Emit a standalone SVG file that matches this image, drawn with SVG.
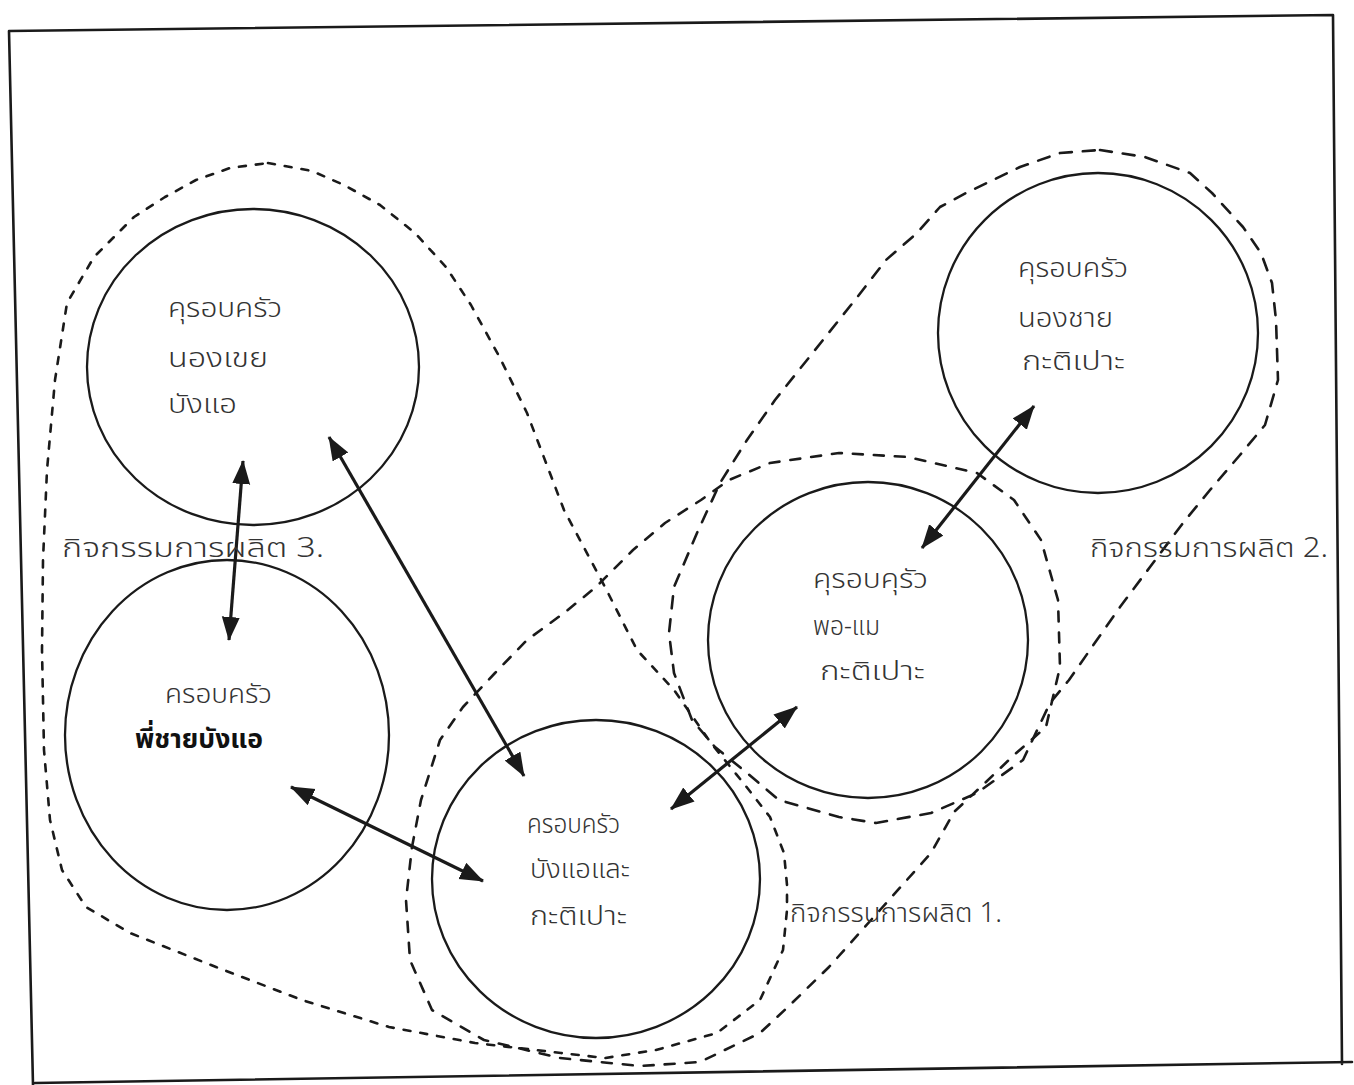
<svg xmlns="http://www.w3.org/2000/svg" width="1354" height="1085" viewBox="0 0 1354 1085">
<style>
.frame{fill:none;stroke:#1a1a1a;stroke-width:2.6;stroke-linecap:round}
.node{fill:none;stroke:#1a1a1a;stroke-width:2.3}
.arrow{fill:none;stroke:#1a1a1a;stroke-width:3.2;marker-start:url(#head);marker-end:url(#head)}
.dash{fill:none;stroke:#1a1a1a;stroke-width:2.6;stroke-linejoin:round;stroke-linecap:round}
.d3{stroke-dasharray:7 10}
.d1{stroke-dasharray:10 11}
.d2{stroke-dasharray:12 11}
text{font-family:"Noto Sans Thai","Noto Sans","DejaVu Sans",sans-serif;font-size:27px;font-weight:300;fill:#333333}
.b{font-weight:bold;fill:#111111}
</style>
<defs>
<marker id="head" markerUnits="userSpaceOnUse" markerWidth="26" markerHeight="20" refX="23" refY="9" orient="auto-start-reverse">
<path d="M0,0 L24,9 L0,18 Z" fill="#1a1a1a"/>
</marker>
</defs>
<rect width="1354" height="1085" fill="#ffffff"/>
<g id="frame">
<path class="frame" d="M9,31 L1333,15 M1333,15 L1342,1064 M9,31 L33,1085 M35,1083 L1352,1062"/>
</g>
<g id="activity-areas">
<path id="area3" class="dash d3" d="M268,163 L312,171 L344,185 L380,205 L415,233 L446,267 L471,305 L500,358 L527,413 L564,510 L605,587 L637,650 L674,690 L711,743 L745,785 L770,817 L784,853 L787,885 L787,910 L783,950 L760,1000 L717,1033 L656,1050 L605,1058 L561,1053 L475,1043 L389,1027 L302,1000 L216,967 L130,933 L86,907 L62,870 L50,820 L44,750 L42,650 L43,560 L47,470 L55,380 L67,303 L94,257 L134,217 L165,197 L196,180 L230,168 Z"/>
<path id="area1" class="dash d1" d="M412,847 L421,800 L440,740 L463,707 L495,673 L527,640 L564,613 L596,587 L633,550 L665,523 L701,500 L729,480 L770,463 L839,453 L908,457 L977,473 L1014,500 L1041,540 L1058,600 L1060,667 L1046,727 L1014,755 L986,782 L954,812 L931,853 L880,910 L829,967 L790,1005 L760,1033 L700,1062 L640,1066 L560,1058 L484,1040 L432,1010 L410,960 L406,900 Z"/>
<path id="area2" class="dash d2" d="M1100,150 L1145,157 L1190,173 L1212,193 L1243,227 L1261,253 L1272,283 L1276,320 L1278,380 L1265,425 L1240,455 L1210,490 L1183,523 L1150,567 L1120,607 L1092,647 L1069,680 L1050,703 L1023,760 L977,793 L931,813 L876,823 L839,817 L779,800 L747,773 L715,747 L692,720 L674,673 L669,633 L674,587 L697,533 L720,483 L747,440 L775,400 L815,350 L855,300 L886,260 L917,233 L940,207 L966,193 L1020,167 L1060,153 Z"/>
</g>
<g id="connectors">
<line class="arrow" x1="243" y1="461" x2="229" y2="640"/>
<line class="arrow" x1="329" y1="437" x2="524" y2="776"/>
<line class="arrow" x1="291" y1="787" x2="483" y2="881"/>
<line class="arrow" x1="671" y1="809" x2="797" y2="707"/>
<line class="arrow" x1="922" y1="548" x2="1034" y2="406"/>
</g>
<g id="node-brother-in-law">
<ellipse class="node" cx="253" cy="367" rx="166" ry="158"/>
<text x="168" y="317" textLength="114" lengthAdjust="spacingAndGlyphs">คุรอบครัว</text>
<text x="168" y="367" textLength="100" lengthAdjust="spacingAndGlyphs">นองเขย</text>
<text x="168" y="413" textLength="69" lengthAdjust="spacingAndGlyphs">บังแอ</text>
</g>
<g id="node-younger-brother">
<ellipse class="node" cx="1098" cy="333" rx="160" ry="160"/>
<text x="1018" y="277" textLength="110" lengthAdjust="spacingAndGlyphs">คุรอบครัว</text>
<text x="1018" y="327" textLength="95" lengthAdjust="spacingAndGlyphs">นองชาย</text>
<text x="1022" y="370" textLength="103" lengthAdjust="spacingAndGlyphs">กะติเปาะ</text>
</g>
<g id="node-parents">
<ellipse class="node" cx="868" cy="640" rx="160" ry="158"/>
<text x="813" y="588" textLength="115" lengthAdjust="spacingAndGlyphs">คุรอบคุรัว</text>
<text x="813" y="635" textLength="67" lengthAdjust="spacingAndGlyphs">พอ-แม</text>
<text x="820" y="680" textLength="105" lengthAdjust="spacingAndGlyphs">กะติเปาะ</text>
</g>
<g id="node-elder-brother">
<ellipse class="node" cx="227" cy="735" rx="162" ry="175"/>
<text x="165" y="703" textLength="107" lengthAdjust="spacingAndGlyphs">ครอบครัว</text>
<text class="b" x="135" y="748" textLength="128" lengthAdjust="spacingAndGlyphs">พี่ชายบังแอ</text>
</g>
<g id="node-bangae-katipo">
<ellipse class="node" cx="596" cy="879" rx="164" ry="159"/>
<text x="527" y="833" textLength="93" lengthAdjust="spacingAndGlyphs">ครอบครัว</text>
<text x="530" y="878" textLength="100" lengthAdjust="spacingAndGlyphs">บังแอและ</text>
<text x="530" y="925" textLength="97" lengthAdjust="spacingAndGlyphs">กะติเปาะ</text>
</g>
<g id="labels">
<text x="62" y="557" textLength="262" lengthAdjust="spacingAndGlyphs">กิจกรรมการผลิต 3.</text>
<text x="1090" y="557" textLength="238" lengthAdjust="spacingAndGlyphs">กิจกรรมการผลิต 2.</text>
<text x="790" y="922" textLength="212" lengthAdjust="spacingAndGlyphs">กิจกรรนการผลิต 1.</text>
</g>
</svg>
